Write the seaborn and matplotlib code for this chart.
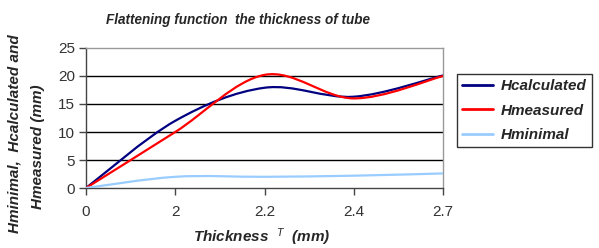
import numpy as np
import pandas as pd
import matplotlib
matplotlib.use("Agg")
import matplotlib.pyplot as plt
import seaborn as sns
from matplotlib.path import Path
from matplotlib.patches import PathPatch
from matplotlib.lines import Line2D

# ── data ────────────────────────────────────────────────────
thickness = ["0", "2", "2.2", "2.4", "2.7"]
h_calculated = [0, 12.0, 17.9, 16.3, 20.1]
h_measured = [0, 10.0, 20.2, 16.0, 20.0]
h_minimal = [0, 2.0, 2.0, 2.2, 2.6]

series_names = ["Hcalculated", "Hmeasured", "Hminimal"]
series_colors = ["#000080", "#ff0000", "#99ccff"]

df = pd.DataFrame({
    "pos": list(range(len(thickness))) * 3,
    "value": h_calculated + h_measured + h_minimal,
    "series": np.repeat(series_names, len(thickness)),
})

# ── figure ──────────────────────────────────────────────────
sns.set_style("white")
plt.rcParams["font.family"] = ["Liberation Sans", "DejaVu Sans"]
plt.rcParams["mathtext.fontset"] = "custom"
plt.rcParams["mathtext.it"] = "Liberation Sans:italic"
plt.rcParams["mathtext.rm"] = "Liberation Sans"

fig = plt.figure(figsize=(5.99, 2.48), dpi=100)
ax = fig.add_axes([86 / 599, 60 / 248, 357 / 599, 140 / 248])

sns.lineplot(data=df, x="pos", y="value", hue="series",
             palette=dict(zip(series_names, series_colors)),
             legend=False, ax=ax)


# Excel-style smoothed line: cubic Bezier through the data points
def smooth_path(x, y):
    p = np.column_stack([x, y]).astype(float)
    n = len(p)
    verts = [p[0]]
    codes = [Path.MOVETO]
    for i in range(n - 1):
        p0 = p[i - 1] if i > 0 else p[i]
        p3 = p[i + 2] if i + 2 < n else p[i + 1]
        c1 = p[i] + (p[i + 1] - p0) / 6
        c2 = p[i + 1] - (p3 - p[i]) / 6
        verts += [c1, c2, p[i + 1]]
        codes += [Path.CURVE4] * 3
    return Path(verts, codes)


for line, color in zip(list(ax.lines), series_colors):
    xd, yd = line.get_xdata(), line.get_ydata()
    line.set_visible(False)
    ax.add_patch(PathPatch(smooth_path(xd, yd), fill=False,
                           edgecolor=color, lw=1.6, zorder=3))

# ── axes styling ────────────────────────────────────────────
ax.set_xlim(0, len(thickness) - 1)
ax.set_ylim(0, 25)
ax.set_xticks(range(len(thickness)))
ax.set_xticklabels(thickness)
ax.set_yticks([0, 5, 10, 15, 20, 25])
ax.tick_params(axis="both", which="both", direction="out", length=5,
               width=1, color="#444444", labelsize=11, labelcolor="#333333",
               bottom=True, left=True)
ax.tick_params(axis="x", pad=7)
ax.tick_params(axis="y", pad=3)

for y in [5, 10, 15, 20]:
    ax.axhline(y, color="black", lw=1, zorder=1)

ax.spines["left"].set_color("#444444")
ax.spines["bottom"].set_color("#444444")
ax.spines["top"].set_color("#999999")
ax.spines["right"].set_color("#999999")
for s in ax.spines.values():
    s.set_linewidth(1)

ax.set_xlabel("")
ax.set_ylabel("")

fig.text(238 / 599, 1 - 20 / 248, "Flattening function  the thickness of tube",
         ha="center", va="center", fontsize=9.75, fontweight="bold",
         fontstyle="italic")
fig.text(262 / 599, 1 - 237 / 248,
         r"Thickness  $^{\mathit{T}}$  (mm)",
         ha="center", va="center", fontsize=11, fontweight="bold",
         fontstyle="italic")

# y label: two lines, as wrapped in the original
ylab_kw = dict(ha="center", va="center", rotation=90, fontsize=11,
               fontweight="bold", fontstyle="italic")
fig.text(15 / 599, 1 - 134 / 248, "Hminimal,  Hcalculated and", **ylab_kw)
fig.text(38 / 599, 1 - 147 / 248, "Hmeasured (mm)", **ylab_kw)

handles = [Line2D([], [], color=c, lw=2) for c in series_colors]
leg = fig.legend(handles, series_names, loc="upper left",
                 bbox_to_anchor=(457 / 599, 1 - 74 / 248),
                 frameon=True, fancybox=False, shadow=False,
                 handlelength=2.0, handletextpad=0.5, labelspacing=0.68,
                 borderpad=0.35, borderaxespad=0,
                 prop={"size": 11, "weight": "bold", "style": "italic"})
leg.get_frame().set_edgecolor("black")
leg.get_frame().set_linewidth(1)

fig.savefig("out.png", dpi=100)
